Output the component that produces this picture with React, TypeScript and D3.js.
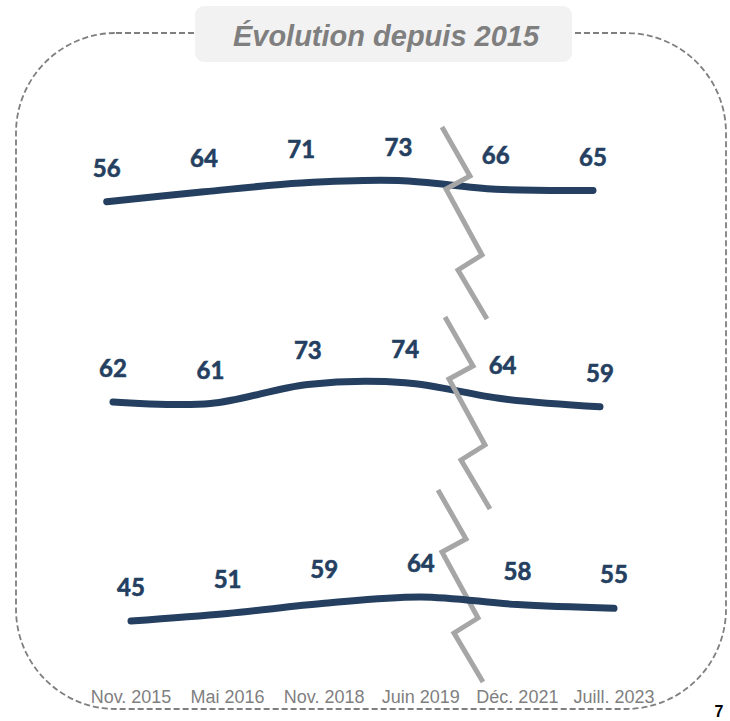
import React from "react";
import * as d3 from "d3";

const categories = ["Nov. 2015", "Mai 2016", "Nov. 2018", "Juin 2019", "Déc. 2021", "Juill. 2023"];
const series1 = [56, 64, 71, 73, 66, 65];
const series2 = [62, 61, 73, 74, 64, 59];
const series3 = [45, 51, 59, 64, 58, 55];
const titleText = "Évolution depuis 2015";
const pageNumber = "7";

const W = 730;
const H = 721;
const NAVY = "#253f61";
const GREY = "#7f7f7f";
const BREAK = "#a6a6a6";

const panels = [
  { values: series1, xr: [106.7, 593], yr: [201.7, 180.6], brk: [442, 127], breakOnTop: true },
  { values: series2, xr: [113, 600], yr: [406.8, 382.8], brk: [445, 317], breakOnTop: true },
  { values: series3, xr: [131, 614], yr: [621, 597], brk: [438, 490], breakOnTop: false },
];

const zig = [[0, 0], [28, 49], [4, 62], [40, 128], [16, 143], [45, 192]];

function Panel({ p }: { p: any }) {
  const x = d3.scalePoint<number>().domain(d3.range(categories.length)).range(p.xr);
  const y = d3.scaleLinear().domain([d3.min(p.values)!, d3.max(p.values)!]).range(p.yr);
  const line = d3
    .line<number>()
    .x((_, i) => x(i)!)
    .y((d) => y(d))
    .curve(d3.curveCatmullRom.alpha(0.5));
  const zz = d3.line()(zig.map(([dx, dy]) => [p.brk[0] + dx, p.brk[1] + dy]) as any);
  const breakEl = (
    <path d={zz!} fill="none" stroke={BREAK} strokeWidth={5} strokeLinejoin="miter" />
  );
  return (
    <g>
      {!p.breakOnTop && breakEl}
      <path d={line(p.values)!} fill="none" stroke={NAVY} strokeWidth={7} strokeLinecap="round" />
      {p.breakOnTop && breakEl}
      {p.values.map((v: number, i: number) => (
        <text
          key={i}
          x={x(i)}
          y={y(v) - 25}
          textAnchor="middle"
          fontFamily="Lato, 'Open Sans', sans-serif"
          fontWeight={700}
          fontSize={24}
          fill={NAVY}
          stroke={NAVY}
          strokeWidth={0.6}
        >
          {v}
        </text>
      ))}
    </g>
  );
}

export default function App() {
  const xb = d3.scalePoint<number>().domain(d3.range(categories.length)).range(panels[2].xr as any);
  return (
    <svg
      width={W}
      height={H}
      style={{ position: "absolute", left: 0, top: 0, background: "#fff" }}
    >
      <rect
        x={16}
        y={33}
        width={710}
        height={676}
        rx={100}
        ry={100}
        fill="none"
        stroke={GREY}
        strokeWidth={1.8}
        strokeDasharray="6 3"
      />
      <rect x={195} y={6} width={377} height={56} rx={9} fill="#f2f2f2" />
      <text
        x={386}
        y={46}
        textAnchor="middle"
        fontFamily="'Liberation Sans', Arial, sans-serif"
        fontWeight={700}
        fontStyle="italic"
        fontSize={29}
        fill={GREY}
      >
        {titleText}
      </text>
      {panels.map((p, i) => (
        <Panel key={i} p={p} />
      ))}
      {categories.map((c, i) => (
        <text
          key={c}
          x={xb(i)}
          y={703}
          textAnchor="middle"
          fontFamily="'Liberation Sans', Arial, sans-serif"
          fontSize={18}
          fill={GREY}
        >
          {c}
        </text>
      ))}
      <text
        x={719}
        y={717}
        textAnchor="middle"
        fontFamily="'Liberation Sans', Arial, sans-serif"
        fontSize={16}
        fontWeight={700}
        fill="#000"
      >
        {pageNumber}
      </text>
    </svg>
  );
}
